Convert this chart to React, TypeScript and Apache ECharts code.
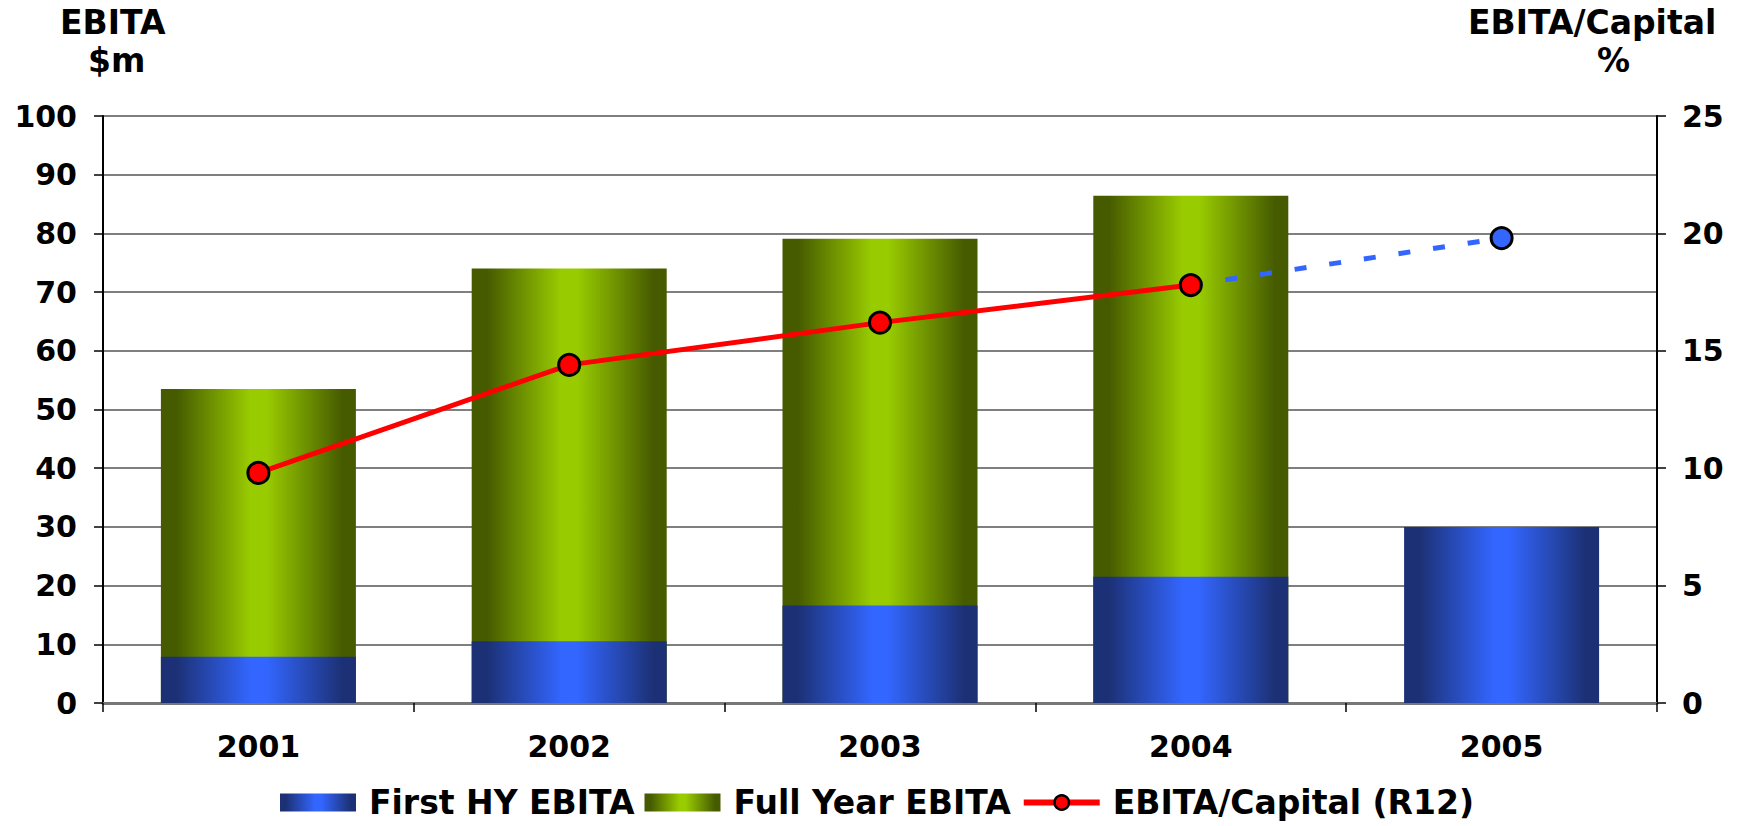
import React, { useEffect, useRef } from "react";
import * as echarts from "echarts";

const years = ["2001", "2002", "2003", "2004", "2005"];
const firstHY = [7.9, 10.5, 16.6, 21.5, 30.0];
const fullYear = [53.5, 74.0, 79.1, 86.4, null];
const ebitaCapital = [9.8, 14.4, 16.2, 17.8, null];
const ebitaCapitalForecast = [null, null, null, 17.8, 19.8];
const leftTicks = { min: 0, max: 100, interval: 10 };
const rightTicks = { min: 0, max: 25, interval: 5 };

const FONT = "'DejaVu Sans', Verdana, sans-serif";

const grad = (edge: string, mid: string) =>
  new echarts.graphic.LinearGradient(0, 0, 1, 0, [
    { offset: 0, color: edge },
    { offset: 0.08, color: edge },
    { offset: 0.46, color: mid },
    { offset: 0.54, color: mid },
    { offset: 0.93, color: edge },
    { offset: 1, color: edge },
  ]);

export default function App() {
  const ref = useRef<HTMLDivElement>(null);
  useEffect(() => {
    if (!ref.current) return;
    const chart = echarts.init(ref.current, null, { renderer: "svg" });
    const blue = grad("#1c3175", "#3366ff");
    const green = grad("#465b00", "#99cc00");
    chart.setOption({
      animation: false,
      backgroundColor: "#ffffff",
      grid: { left: 103, right: 96, top: 116, bottom: 123 },
      legend: {
        left: 275,
        top: 781,
        itemWidth: 76,
        itemHeight: 18,
        itemGap: 10,
        data: [
          { name: "First HY EBITA", icon: "rect" },
          { name: "Full Year EBITA", icon: "rect" },
          {
            name: "EBITA/Capital (R12)",
            lineStyle: { color: "#ff0000", width: 6 },
            itemStyle: { color: "#ff0000", borderColor: "#000", borderWidth: 2.5 },
          },
        ],
        textStyle: {
          fontFamily: FONT,
          fontWeight: "bold",
          fontSize: 33,
          color: "#000",
          padding: [0, 0, 0, 8],
        },
      },
      graphic: [
        { type: "text", left: 60, top: 6, style: { text: "EBITA", font: `bold 33px ${FONT}`, fill: "#000" } },
        { type: "text", left: 88, top: 44, style: { text: "$m", font: `bold 33px ${FONT}`, fill: "#000" } },
        { type: "text", left: 1468, top: 6, style: { text: "EBITA/Capital", font: `bold 33px ${FONT}`, fill: "#000" } },
        { type: "text", left: 1597, top: 44, style: { text: "%", font: `bold 33px ${FONT}`, fill: "#000" } },
      ],
      xAxis: {
        type: "category",
        data: years,
        axisLine: { lineStyle: { color: "#777", width: 3 } },
        axisTick: { show: true, length: 9, lineStyle: { color: "#000", width: 1.5 } },
        axisLabel: { fontFamily: FONT, fontWeight: "bold", fontSize: 30, color: "#000", margin: 28 },
      },
      yAxis: [
        {
          type: "value",
          ...leftTicks,
          position: "left",
          axisLine: { show: true, lineStyle: { color: "#000", width: 2 } },
          axisTick: { show: true, length: 9, lineStyle: { color: "#000", width: 1.5 } },
          axisLabel: { fontFamily: FONT, fontWeight: "bold", fontSize: 30, color: "#000", margin: 26 },
          splitLine: { show: true, lineStyle: { color: "#555", width: 1.5 } },
        },
        {
          type: "value",
          ...rightTicks,
          position: "right",
          axisLine: { show: true, lineStyle: { color: "#000", width: 2 } },
          axisTick: { show: true, length: 9, lineStyle: { color: "#000", width: 1.5 } },
          axisLabel: { fontFamily: FONT, fontWeight: "bold", fontSize: 30, color: "#000", margin: 25 },
          splitLine: { show: false },
        },
      ],
      series: [
        {
          name: "Full Year EBITA",
          type: "bar",
          data: fullYear,
          barWidth: 195,
          barGap: "-100%",
          itemStyle: { color: green },
        },
        {
          name: "First HY EBITA",
          type: "bar",
          data: firstHY,
          barWidth: 195,
          barGap: "-100%",
          itemStyle: { color: blue },
        },
        {
          name: "forecast",
          type: "line",
          yAxisIndex: 1,
          data: ebitaCapitalForecast.map((v, i) =>
            i === 4 ? { value: v, symbol: "circle", symbolSize: 21 } : { value: v, symbol: "none" }
          ),
          lineStyle: { color: "#3366ff", width: 5, type: [12, 23] },
          itemStyle: { color: "#3366ff", borderColor: "#000", borderWidth: 3 },
          z: 3,
        },
        {
          name: "EBITA/Capital (R12)",
          type: "line",
          yAxisIndex: 1,
          data: ebitaCapital,
          symbol: "circle",
          symbolSize: 21,
          lineStyle: { color: "#ff0000", width: 5 },
          itemStyle: { color: "#ff0000", borderColor: "#000", borderWidth: 3 },
          z: 4,
        },
      ],
    });
    return () => chart.dispose();
  }, []);
  return (
    <div
      ref={ref}
      style={{ position: "absolute", left: 0, top: 0, width: 1753, height: 826, background: "#fff" }}
    />
  );
}
